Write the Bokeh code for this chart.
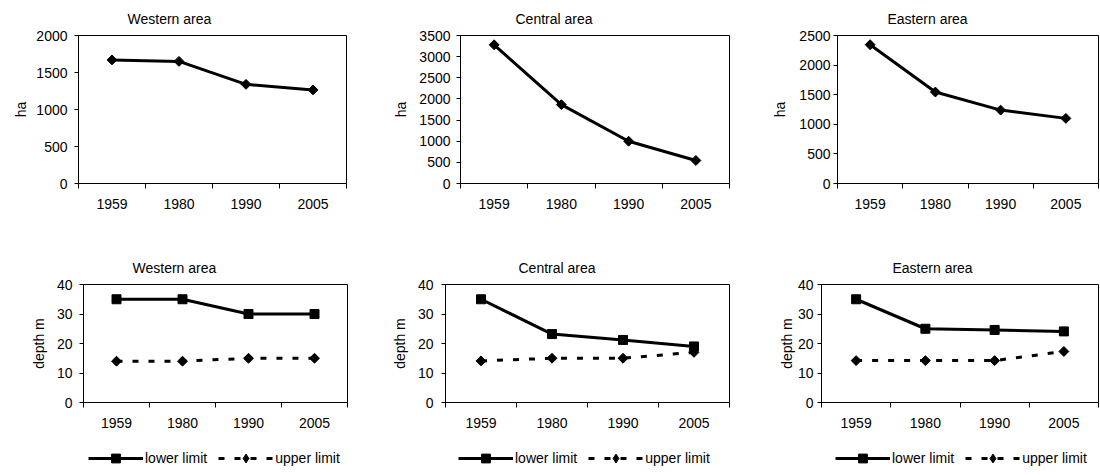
import math
from bokeh.plotting import figure
from bokeh.models import Range1d, FixedTicker, Legend, LegendItem
from bokeh.layouts import row, column
from bokeh.embed import file_html
from bokeh.resources import INLINE

years = ["1959", "1980", "1990", "2005"]

area_western = [1670, 1650, 1340, 1265]
area_central = [3280, 1865, 1000, 545]
area_eastern = [2345, 1545, 1240, 1100]

lower_western = [35, 35, 30, 30]
upper_western = [14, 14, 15, 15]
lower_central = [35, 23.2, 21.2, 19]
upper_central = [14.1, 15, 15, 17]
lower_eastern = [35, 25, 24.6, 24.1]
upper_eastern = [14.2, 14.2, 14.2, 17.3]

titles = ["Western area", "Central area", "Eastern area"]
area_ymax = [2000, 3500, 2500]
area_step = 500
depth_ymax = 40
depth_step = 10
area_label = "ha"
depth_label = "depth m"
legend_labels = ["lower limit", "upper limit"]

FONT = "Liberation Sans"
FS = "14px"

xs = [i + 0.5 for i in range(len(years))]


def make_fig(title, ymax, ystep, ylabel, width, height, bl, br, bt, bb,
             title_off, title_st, ylab_st, ytick_st):
    p = figure(width=width, height=height, output_backend="svg",
               toolbar_location=None, tools="",
               x_range=Range1d(0, len(years)), y_range=Range1d(0, ymax),
               min_border_left=bl, min_border_right=br,
               min_border_top=bt, min_border_bottom=bb)
    p.title.text = title
    p.title.align = "left"
    p.title.offset = title_off
    p.title.standoff = title_st
    p.title.text_font = FONT
    p.title.text_font_size = FS
    p.title.text_font_style = "normal"
    p.title.text_color = "black"
    p.xgrid.visible = False
    p.ygrid.visible = False
    p.outline_line_color = "black"
    p.outline_line_alpha = 1
    p.outline_line_width = 1
    p.background_fill_color = "white"
    p.border_fill_color = "white"

    xa = p.xaxis[0]
    xa.ticker = FixedTicker(ticks=xs, minor_ticks=list(range(len(years) + 1)))
    xa.major_label_overrides = {x: y for x, y in zip(xs, years)}
    xa.major_tick_line_color = None
    xa.major_tick_out = 5
    xa.major_tick_in = 0
    xa.minor_tick_line_color = "black"
    xa.minor_tick_out = 5
    xa.minor_tick_in = 0
    xa.major_label_standoff = 10

    ya = p.yaxis[0]
    ya.ticker = FixedTicker(ticks=list(range(0, ymax + 1, ystep)), minor_ticks=[])
    ya.major_tick_out = 4
    ya.major_tick_in = 0
    ya.minor_tick_line_color = None
    ya.major_label_standoff = ytick_st
    ya.axis_label = ylabel
    ya.axis_label_standoff = ylab_st
    ya.axis_label_text_font_style = "normal"

    for ax in (xa, ya):
        ax.axis_line_color = "black"
        ax.major_tick_line_width = 1
        ax.major_label_text_font = FONT
        ax.major_label_text_font_size = FS
        ax.major_label_text_color = "black"
        ax.axis_label_text_font = FONT
        ax.axis_label_text_font_size = FS
        ax.axis_label_text_color = "black"
    return p


LOWER_STYLE = dict(marker="square", size=9, angle=0, dash="solid")
UPPER_STYLE = dict(marker="square", size=7, angle=math.pi / 4, dash="6 10")
AREA_STYLE = dict(marker="square", size=7, angle=math.pi / 4, dash="solid")
# legend swatches are drawn unrotated, so the upper-limit swatch uses a diamond
UPPER_KEY = dict(marker="diamond", size=7, angle=0, dash="6 10")


def add_series(p, xv, vals, st):
    ln = p.line(xv, vals, line_width=3, color="black", line_dash=st["dash"])
    sc = p.scatter(xv, vals, marker=st["marker"], size=st["size"],
                   angle=st["angle"], color="black")
    return [ln, sc]


top_specs = [
    dict(width=370, bl=78, br=24, title_off=49, ylab_st=4, ytick_st=7),
    dict(width=370, bl=90, br=11, title_off=55, ylab_st=7, ytick_st=6),
    dict(width=360, bl=97, br=2, title_off=50, ylab_st=8, ytick_st=3),
]
bottom_specs = [
    dict(width=370, bl=83, br=23, title_off=49, ylab_st=7, ytick_st=7, lx=88),
    dict(width=370, bl=75, br=11, title_off=73, ylab_st=7, ytick_st=8, lx=88),
    dict(width=360, bl=81, br=2, title_off=71, ylab_st=0, ytick_st=4, lx=95),
]

areas = [area_western, area_central, area_eastern]
lowers = [lower_western, lower_central, lower_eastern]
uppers = [upper_western, upper_central, upper_eastern]

top = []
for i in range(3):
    s = top_specs[i]
    p = make_fig(titles[i], area_ymax[i], area_step, area_label, s["width"], 240,
                 s["bl"], s["br"], 33, 57, s["title_off"], 17,
                 s["ylab_st"], s["ytick_st"])
    add_series(p, xs, areas[i], AREA_STYLE)
    top.append(p)

NAN = float("nan")

bottom = []
legends = []
for i in range(3):
    s = bottom_specs[i]
    p = make_fig(titles[i], depth_ymax, depth_step, depth_label, s["width"], 196,
                 s["bl"], s["br"], 44, 34, s["title_off"], 17,
                 s["ylab_st"], s["ytick_st"])
    add_series(p, xs, lowers[i], LOWER_STYLE)
    add_series(p, xs, uppers[i], UPPER_STYLE)
    bottom.append(p)

    # legend strip under each depth chart; its renderers are empty legend proxies
    lg = figure(width=s["width"], height=39, output_backend="svg",
                toolbar_location=None, tools="", x_axis_type=None, y_axis_type=None,
                x_range=Range1d(0, 1), y_range=Range1d(0, 1),
                min_border_left=s["lx"], min_border_right=0,
                min_border_top=11, min_border_bottom=0)
    lg.outline_line_color = None
    r_low = add_series(lg, [NAN], [NAN], LOWER_STYLE)
    r_up = add_series(lg, [NAN], [NAN], UPPER_KEY)
    leg = Legend(items=[LegendItem(label=legend_labels[0], renderers=r_low),
                        LegendItem(label=legend_labels[1], renderers=r_up)],
                 location="top_left", orientation="horizontal",
                 glyph_width=55, glyph_height=22, label_height=22,
                 label_standoff=2, spacing=11, padding=0, margin=0,
                 border_line_color=None, background_fill_alpha=0,
                 label_text_font=FONT, label_text_font_size=FS,
                 label_text_color="black")
    lg.add_layout(leg)
    legends.append(lg)

layout = column(row(*top, spacing=0), row(*bottom, spacing=0),
                row(*legends, spacing=0), spacing=0)

open("out.html", "w").write(file_html(layout, INLINE))
